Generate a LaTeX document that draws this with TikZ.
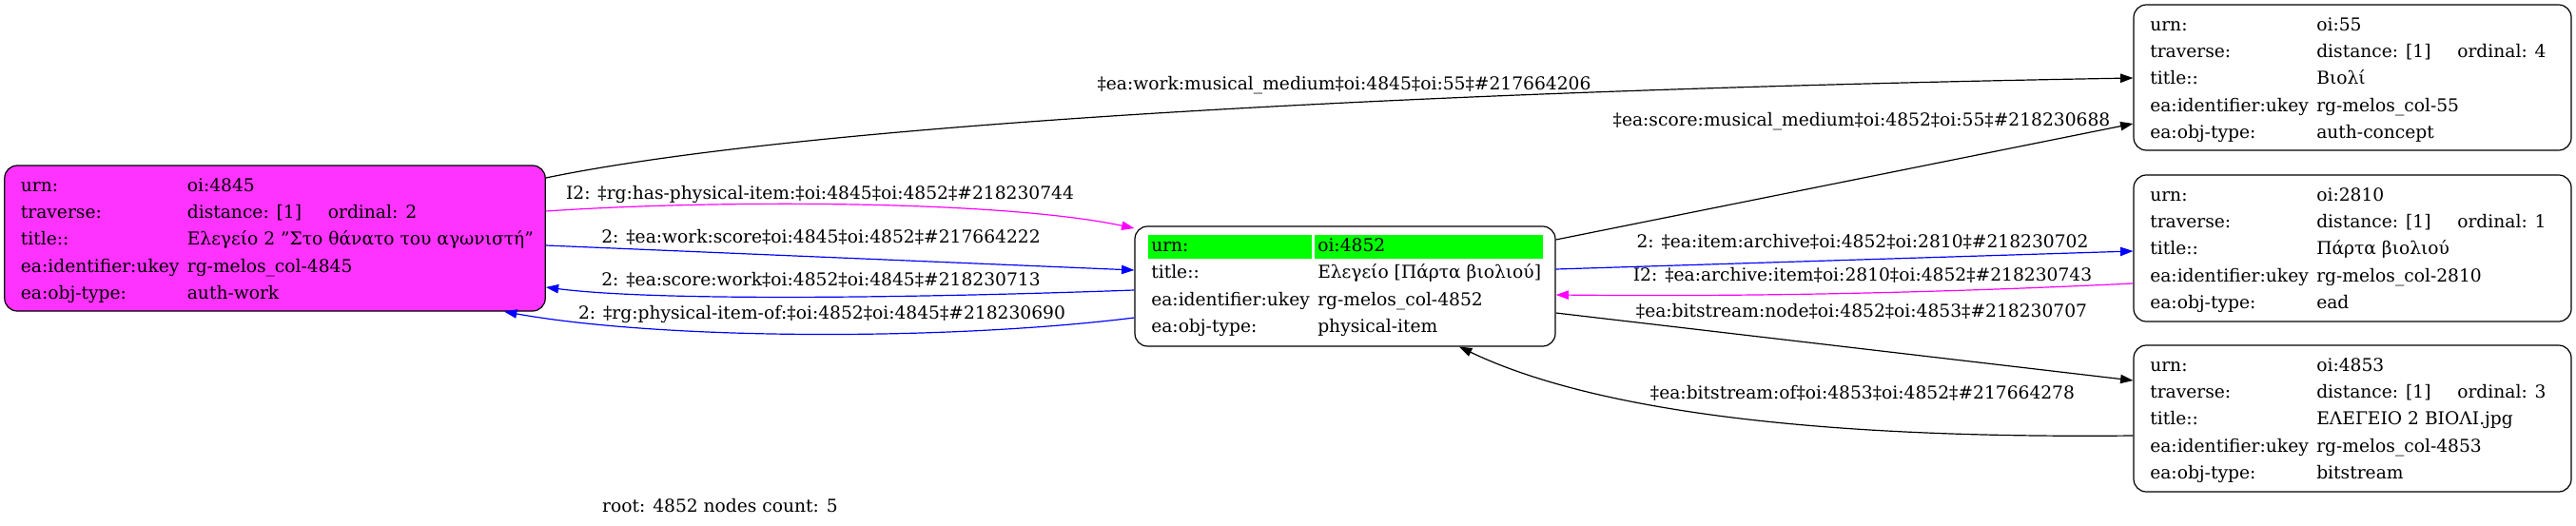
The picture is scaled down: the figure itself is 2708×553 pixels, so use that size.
\documentclass[tikz,border=0pt]{standalone}
\usepackage{fontspec}
\setmainfont{DejaVu Serif}
\usetikzlibrary{arrows.meta}
\definecolor{magfill}{HTML}{FF33FF}
\definecolor{magline}{HTML}{FF00FF}
\definecolor{bluline}{HTML}{0000FF}
\definecolor{grn}{HTML}{00FF00}
\newcommand\kv[5]{%
  \node[txt] (#1l) at (#2+17,#3) {#4};
  \node[txt] (#1v) at (#2+192,#3) {#5};}
\newcommand\ordn[4]{%
  \node[txt] (#1) at (#2+340,#3) {#4};}
\begin{document}
\begin{tikzpicture}[x=0.75pt,y=-0.75pt,
  font=\fontsize{14pt}{16pt}\selectfont,
  txt/.style={anchor=base west, inner sep=0pt},
  box/.style={draw=black, line width=0.9pt, rounded corners=10pt, inner sep=0pt},
  elabel/.style={anchor=base, inner sep=0pt},
  edge/.style={line width=0.9pt, -{Triangle[length=10pt,width=7pt]}},
  blk/.style={edge, draw=black},
  blu/.style={edge, draw=bluline},
  mag/.style={edge, draw=magline}]
\useasboundingbox (0,0) rectangle (2708,553);
\fill[white] (0,0) rectangle (2708,553);

% boxes
\node[box, fill=magfill, minimum width=568.4*0.75pt, minimum height=153*0.75pt] (n4845) at (289,250.5) {};
\node[box, fill=white, minimum width=442*0.75pt, minimum height=126*0.75pt] (n4852) at (1414,301) {};
\node[box, fill=white, minimum width=460*0.75pt, minimum height=153*0.75pt] (n55) at (2473,81.5) {};
\node[box, fill=white, minimum width=460*0.75pt, minimum height=154*0.75pt] (n2810) at (2473,261) {};
\node[box, fill=white, minimum width=460*0.75pt, minimum height=154*0.75pt] (n4853) at (2473,440) {};

% node 4845
\kv{a1}{4.6}{201}{urn:}{oi:4845}
\kv{a2}{4.6}{229.4}{traverse:}{distance: [1]}
\ordn{a2o}{4.6}{229.4}{ordinal: 2}
\kv{a3}{4.6}{257.8}{title::}{Ελεγείο 2 "Στο θάνατο του αγωνιστή"}
\kv{a4}{4.6}{286.2}{ea:identifier:ukey}{rg-melos\_col-4845}
\kv{a5}{4.6}{314.6}{ea:obj-type:}{auth-work}

% node 4852
\fill[grn] (1207,247) rectangle (1379,272);
\fill[grn] (1382,247) rectangle (1622,272);
\kv{b1}{1193}{264.3}{urn:}{oi:4852}
\kv{b2}{1193}{292.7}{title::}{Ελεγείο [Πάρτα βιολιού]}
\kv{b3}{1193}{321.1}{ea:identifier:ukey}{rg-melos\_col-4852}
\kv{b4}{1193}{349.5}{ea:obj-type:}{physical-item}

% node 55
\kv{c1}{2243}{32}{urn:}{oi:55}
\kv{c2}{2243}{60.4}{traverse:}{distance: [1]}
\ordn{c2o}{2243}{60.4}{ordinal: 4}
\kv{c3}{2243}{88.8}{title::}{Βιολί}
\kv{c4}{2243}{117.2}{ea:identifier:ukey}{rg-melos\_col-55}
\kv{c5}{2243}{145.6}{ea:obj-type:}{auth-concept}

% node 2810
\kv{d1}{2243}{211}{urn:}{oi:2810}
\kv{d2}{2243}{239.4}{traverse:}{distance: [1]}
\ordn{d2o}{2243}{239.4}{ordinal: 1}
\kv{d3}{2243}{267.8}{title::}{Πάρτα βιολιού}
\kv{d4}{2243}{296.2}{ea:identifier:ukey}{rg-melos\_col-2810}
\kv{d5}{2243}{324.6}{ea:obj-type:}{ead}

% node 4853
\kv{e1}{2243}{390}{urn:}{oi:4853}
\kv{e2}{2243}{418.4}{traverse:}{distance: [1]}
\ordn{e2o}{2243}{418.4}{ordinal: 3}
\kv{e3}{2243}{446.8}{title::}{ΕΛΕΓΕΙΟ 2 ΒΙΟΛΙ.jpg}
\kv{e4}{2243}{475.2}{ea:identifier:ukey}{rg-melos\_col-4853}
\kv{e5}{2243}{503.6}{ea:obj-type:}{bitstream}

% edges
\draw[blk] (n4845.east |- 0,187) .. controls (850,130) and (1500,95) .. (n55.west |- 0,82);
\draw[mag] (n4845.east |- 0,222) .. controls (750,210) and (1050,210) .. (n4852.west |- 0,240);
\draw[blu] (n4845.east |- 0,258) -- (n4852.west |- 0,284);
\draw[blu] (n4852.west |- 0,305) .. controls (1000,312) and (700,318) .. (n4845.east |- 0,302);
\draw[blu] (n4852.west |- 0,334) .. controls (1000,358) and (700,358) .. (530,0 |- n4845.south);
\draw[blk] (n4852.east |- 0,252) -- (n55.west |- 0,130);
\draw[blu] (n4852.east |- 0,283) -- (n2810.west |- 0,264);
\draw[mag] (n2810.west |- 0,298) .. controls (1950,312) and (1750,311) .. (n4852.east |- 0,310);
\draw[blk] (n4852.east |- 0,329) -- (n4853.west |- 0,400);
\draw[blk] (n4853.west |- 0,458) .. controls (1850,462) and (1650,420) .. (1534,0 |- n4852.south);

% edge labels
\node[elabel] (l1) at (1413,94) {‡ea:work:musical\_medium‡oi:4845‡oi:55‡\#217664206};
\node[elabel] (l2) at (862,209) {I2: ‡rg:has-physical-item:‡oi:4845‡oi:4852‡\#218230744};
\node[elabel] (l3) at (863,255) {2: ‡ea:work:score‡oi:4845‡oi:4852‡\#217664222};
\node[elabel] (l4) at (863,300) {2: ‡ea:score:work‡oi:4852‡oi:4845‡\#218230713};
\node[elabel] (l5) at (864,335) {2: ‡rg:physical-item-of:‡oi:4852‡oi:4845‡\#218230690};
\node[elabel] (l6) at (1957,132) {‡ea:score:musical\_medium‡oi:4852‡oi:55‡\#218230688};
\node[elabel] (l7) at (1958,260) {2: ‡ea:item:archive‡oi:4852‡oi:2810‡\#218230702};
\node[elabel] (l8) at (1958,295) {I2: ‡ea:archive:item‡oi:2810‡oi:4852‡\#218230743};
\node[elabel] (l9) at (1957,333) {‡ea:bitstream:node‡oi:4852‡oi:4853‡\#218230707};
\node[elabel] (l10) at (1958,419) {‡ea:bitstream:of‡oi:4853‡oi:4852‡\#217664278};

\node[elabel] (root) at (757,538) {root: 4852 nodes count: 5};
\end{tikzpicture}
\end{document}
